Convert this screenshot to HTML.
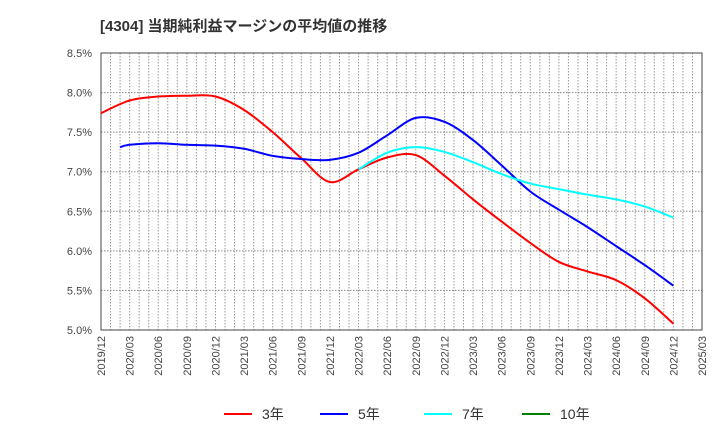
<!DOCTYPE html>
<html><head><meta charset="utf-8"><style>
body{margin:0;background:#fff;}
svg{display:block;font-family:"Liberation Sans","Noto Sans CJK JP",sans-serif;}
</style></head><body>
<svg id="c" width="720" height="440">
<text x="100" y="31" font-size="15" font-weight="bold" fill="#333">[4304]  当期純利益マージンの平均値の推移</text>
<g id="grid"></g><g id="axes"></g><g id="series"></g><g id="legend"></g>
</svg>
<script>
const yTicks=[5.0,5.5,6.0,6.5,7.0,7.5,8.0,8.5];
const xTickLabels=["2019/12","2020/03","2020/06","2020/09","2020/12","2021/03","2021/06","2021/09","2021/12","2022/03","2022/06","2022/09","2022/12","2023/03","2023/06","2023/09","2023/12","2024/03","2024/06","2024/09","2024/12","2025/03"];
const m3=[0,3,6,9,12,15,18,21,24,27,30,33,36,39,42,45,48,51,54,57,60];
const v3=[7.74,7.90,7.95,7.96,7.95,7.78,7.50,7.17,6.87,7.03,7.18,7.21,6.95,6.65,6.37,6.10,5.86,5.74,5.63,5.40,5.08];
const m5=[2,3,6,9,12,15,18,21,24,27,30,33,36,39,42,45,48,51,54,57,60];
const v5=[7.31,7.34,7.36,7.34,7.33,7.29,7.20,7.16,7.15,7.24,7.46,7.68,7.63,7.40,7.08,6.75,6.52,6.30,6.06,5.82,5.56];
const m7=[27,30,33,36,39,42,45,48,51,54,57,60];
const v7=[7.03,7.24,7.31,7.25,7.12,6.97,6.85,6.78,6.71,6.65,6.56,6.42];
const m10=[];
const v10=[];
const L=101,R=702,T=53,B=330,NS="http://www.w3.org/2000/svg";
const X=m=>L+(R-L)*m/63;
const Y=v=>B-(B-T)*(v-5)/3.5;
function mk(p,tag,a){const e=document.createElementNS(NS,tag);for(const k in a)e.setAttribute(k,a[k]);p.appendChild(e);return e;}
const grid=document.getElementById('grid'),axes=document.getElementById('axes'),ser=document.getElementById('series'),leg=document.getElementById('legend');
for(let m=1;m<63;m++){const g=mk(grid,'line',{x1:X(m),x2:X(m),y1:T,y2:B,stroke:'#999','stroke-dasharray':'1.5,1.5','stroke-width':1});

}
yTicks.forEach(v=>{const g=mk(grid,'line',{x1:L,x2:R,y1:Y(v),y2:Y(v),stroke:'#888','stroke-dasharray':'1.5,1.5','stroke-width':1});


const t=mk(axes,'text',{x:92,y:Y(v)+4,'text-anchor':'end','font-size':11,fill:'#444'});t.textContent=v.toFixed(1)+'%';

});
xTickLabels.forEach((s,i)=>{const x=X(i*3);const t=mk(axes,'text',{transform:`translate(${x+4},336) rotate(-90)`,'text-anchor':'end','font-size':11,fill:'#444'});t.textContent=s;

});
const fr=mk(axes,'rect',{x:L,y:T,width:R-L,height:B-T,fill:'none',stroke:'#444','stroke-width':1});


function path(ms,vs){const p=ms.map((m,i)=>[X(m),Y(vs[i])]);if(!p.length)return '';let d=`M${p[0][0]},${p[0][1]}`;
for(let i=0;i<p.length-1;i++){const p0=p[i-1]||p[i],p1=p[i],p2=p[i+1],p3=p[i+2]||p2;
d+=` C${p1[0]+(p2[0]-p0[0])/6},${p1[1]+(p2[1]-p0[1])/6} ${p2[0]-(p3[0]-p1[0])/6},${p2[1]-(p3[1]-p1[1])/6} ${p2[0]},${p2[1]}`;}return d;}
const S=[[m3,v3,'#ff0000','3年','line-3yr'],[m5,v5,'#0000ff','5年','line-5yr'],[m7,v7,'#00ffff','7年','line-7yr'],[m10,v10,'#008000','10年','line-10yr']];
S.forEach(s=>{if(s[0].length){const p=mk(ser,'path',{d:path(s[0],s[1]),fill:'none',stroke:s[2],'stroke-width':2});

}});
const lx=[224,320,424,522];
S.forEach((s,i)=>{const g=mk(leg,'g',{});


mk(g,'line',{x1:lx[i],x2:lx[i]+28,y1:414,y2:414,stroke:s[2],'stroke-width':2});
const t=mk(g,'text',{x:lx[i]+38,y:419,'font-size':14,fill:'#333'});t.textContent=s[3];});
</script>
</body></html>
